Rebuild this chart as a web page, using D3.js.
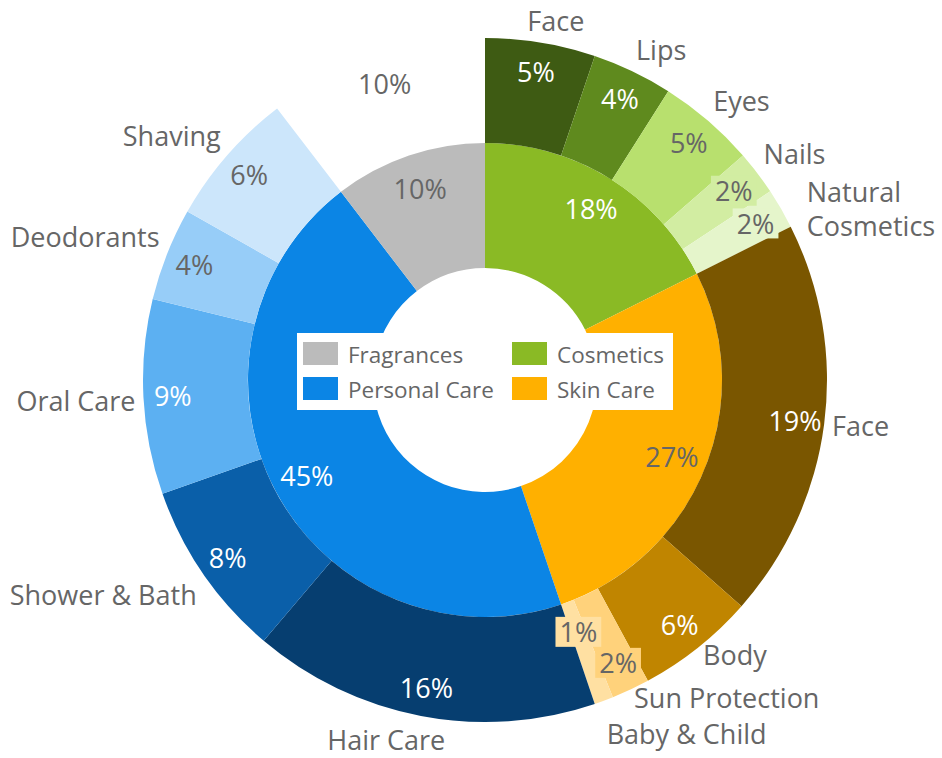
<!DOCTYPE html>
<html>
<head>
<meta charset="utf-8">
<script src="https://cdn.jsdelivr.net/npm/d3@7"></script>
<style>
  html, body { margin: 0; padding: 0; background: #ffffff; }
  svg { display: block; font-family: "Open Sans", "Noto Sans", sans-serif; }
</style>
</head>
<body>
<svg id="chart" width="942" height="758"></svg>
<script>
// ---- data (share of total sales, %) ----
const groups = ["Cosmetics", "Skin Care", "Personal Care", "Fragrances"];
const groupColors = ["#8aba25", "#ffb000", "#0b85e5", "#bbbbbb"];

const cosmeticsNames  = ["Face", "Lips", "Eyes", "Nails", "Natural Cosmetics"];
const cosmeticsValues = [5.2, 3.8, 4.6, 2.1, 1.9];
const cosmeticsColors = ["#3e5b13", "#5f8a1e", "#b8e06e", "#d2eda2", "#e5f5cb"];

const skinCareNames  = ["Face", "Body", "Sun Protection", "Baby & Child"];
const skinCareValues = [18.9, 5.6, 1.8, 0.9];
const skinCareColors = ["#7a5600", "#c08500", "#ffd27b", "#ffe0a2"];

const personalCareNames  = ["Hair Care", "Shower & Bath", "Oral Care", "Deodorants", "Shaving"];
const personalCareValues = [16.4, 8.4, 9.2, 4.4, 6.4];
const personalCareColors = ["#063e70", "#0a5fa9", "#5cb0f2", "#97cdf8", "#cce6fb"];

const fragrancesNames  = [""];
const fragrancesValues = [10.4];
const fragrancesColors = ["none"];

const legendOrder = ["Fragrances", "Cosmetics", "Personal Care", "Skin Care"];

// ---- layout ----
const W = 942, H = 758;
const cx = 485, cy = 380;
const radius = d3.scaleLinear().domain([1, 2, 3]).range([112, 237, 342]);
const textGray = "#666666";

const leafSets = [
  [cosmeticsNames, cosmeticsValues, cosmeticsColors],
  [skinCareNames, skinCareValues, skinCareColors],
  [personalCareNames, personalCareValues, personalCareColors],
  [fragrancesNames, fragrancesValues, fragrancesColors]
];

const tree = {
  name: "All",
  children: groups.map((g, i) => ({
    name: g,
    color: groupColors[i],
    children: leafSets[i][0].map((n, j) => ({
      name: n, value: leafSets[i][1][j], color: leafSets[i][2][j]
    }))
  }))
};

const root = d3.hierarchy(tree).sum(d => d.value || 0);
d3.partition().size([2 * Math.PI, 3])(root);
const nodes = root.descendants().filter(d => d.depth > 0);

const arc = d3.arc()
  .startAngle(d => d.x0)
  .endAngle(d => d.x1)
  .innerRadius(d => radius(d.y0))
  .outerRadius(d => radius(d.y1));

const svg = d3.select("#chart");
const g = svg.append("g").attr("transform", `translate(${cx},${cy})`);

// slices
g.append("g").selectAll("path")
  .data(nodes)
  .join("path")
  .attr("d", arc)
  .attr("fill", d => d.data.color);

// label colour picked from the slice's luminance
function luminance(hex) {
  const c = d3.rgb(hex);
  const lin = v => { v /= 255; return v <= 0.03928 ? v / 12.92 : Math.pow((v + 0.055) / 1.055, 2.4); };
  return 0.2126 * lin(c.r) + 0.7152 * lin(c.g) + 0.0722 * lin(c.b);
}
const labelColor = col => (col === "none" || luminance(col) > 0.45) ? textGray : "#ffffff";
const pct = v => Math.round(v) + "%";

// ---- value labels inside the rings ----
const valueLayer = g.append("g");
const placed = [];
const boxPad = 8, boxH = 30;
const overlaps = (a, b) => Math.abs(a.x - b.x) < (a.w + b.w) / 2 && Math.abs(a.y - b.y) < (a.h + b.h) / 2;

nodes.slice().sort((a, b) => a.depth - b.depth || a.x0 - b.x0).forEach(d => {
  const r0 = radius(d.y0), r1 = radius(d.y1);
  const ang = (d.x0 + d.x1) / 2;
  const grp = valueLayer.append("g");
  const t = grp.append("text")
    .attr("text-anchor", "middle")
    .attr("dominant-baseline", "central")
    .attr("font-size", 27)
    .attr("fill", labelColor(d.data.color))
    .text(pct(d.value));
  const tw = t.node().getComputedTextLength();
  let r = r0 + 0.72 * (r1 - r0);
  let box;
  for (; r > r0; r -= 2) {
    box = { x: Math.sin(ang) * r, y: -Math.cos(ang) * r, w: tw + boxPad, h: boxH };
    if (!placed.some(p => overlaps(p, box))) break;
  }
  placed.push(box);
  t.attr("x", box.x).attr("y", box.y);
  if (d.value < 3 && d.data.color !== "none") {
    grp.insert("rect", "text")
      .attr("x", box.x - box.w / 2).attr("y", box.y - box.h / 2)
      .attr("width", box.w).attr("height", box.h)
      .attr("fill", d.data.color);
  }
});

// ---- category names outside the outer ring ----
const nameLayer = g.append("g");
const nameR = 350, K = 3, lineH = 34, fs = 27, pad = 6, singleH = 30;
const clamp1 = v => Math.max(-1, Math.min(1, v));
const leaves = nodes.filter(d => d.depth === 2 && d.data.name);

function makeName(lines) {
  const t = nameLayer.append("text")
    .attr("font-size", fs)
    .attr("fill", textGray)
    .attr("dominant-baseline", "central");
  lines.forEach(ln => t.append("tspan").text(ln));
  return t;
}

const items = leaves.map(d => {
  const ang = (d.x0 + d.x1) / 2;
  const s = Math.sin(ang), c = Math.cos(ang);
  let lines = [d.data.name];
  let t = makeName(lines);
  let w = t.node().getBBox().width;
  const px = s * nameR, py = -c * nameR;
  let left = px + clamp1(s * K) * w / 2 - w / 2;
  if (cx + left + w > W - 2 && lines[0].includes(" ")) {
    t.remove();
    lines = d.data.name.split(" ");
    t = makeName(lines);
    w = t.node().getBBox().width;
    left = px + clamp1(s * K) * w / 2 - w / 2;
  }
  const h = lines.length === 1 ? singleH : lines.length * lineH;
  // labels on the lower right hang level with their anchor point
  const kv = (c < 0 && s > 0) ? 0 : K;
  const top = py + clamp1(-c * kv) * h / 2 - h / 2;
  return { t, lines, w, h, left, top, s, side: s >= 0 ? 1 : -1, ang };
});

function settle(list) {
  const done = [];
  list.forEach(it => {
    let moved = false;
    done.forEach(p => {
      const xo = it.left < p.left + p.w && p.left < it.left + it.w;
      if (xo && it.top < p.top + p.h + pad && p.top < it.top + it.h) {
        it.top = p.top + p.h + pad;
        moved = true;
      }
    });
    if (moved && Math.abs(it.s) > 0.7) {
      const ny = it.top + it.h < 0 ? it.top + it.h : (it.top > 0 ? it.top : 0);
      const dx = Math.sqrt(Math.max(0, nameR * nameR - ny * ny));
      it.left = it.side > 0 ? dx : -dx - it.w;
    }
    done.push(it);
  });
}
settle(items.filter(it => it.side > 0).sort((a, b) => a.ang - b.ang));
settle(items.filter(it => it.side < 0).sort((a, b) => b.ang - a.ang));

items.forEach(it => {
  const step = it.lines.length === 1 ? 0 : lineH;
  const first = it.lines.length === 1 ? it.top + it.h / 2 : it.top + lineH / 2;
  it.t.selectAll("tspan")
    .attr("x", it.left)
    .attr("y", (_, i) => first + i * step);
});

// ---- legend in the centre hole ----
const legend = svg.append("g").attr("transform", `translate(${cx},${cy - 8.5})`);
legend.append("rect")
  .attr("x", -188).attr("y", -38.5)
  .attr("width", 376).attr("height", 77)
  .attr("fill", "#ffffff");
const legendItems = legend.selectAll("g.item")
  .data(legendOrder)
  .join("g")
  .attr("class", "item")
  .attr("transform", (d, i) => `translate(${-182 + (i % 2) * 209},${-29.5 + Math.floor(i / 2) * 35})`);
legendItems.append("rect")
  .attr("width", 35).attr("height", 23)
  .attr("fill", d => groupColors[groups.indexOf(d)]);
legendItems.append("text")
  .attr("x", 45).attr("y", 12.5)
  .attr("dominant-baseline", "central")
  .attr("font-size", 22.5)
  .attr("fill", textGray)
  .text(d => d);
</script>
</body>
</html>
